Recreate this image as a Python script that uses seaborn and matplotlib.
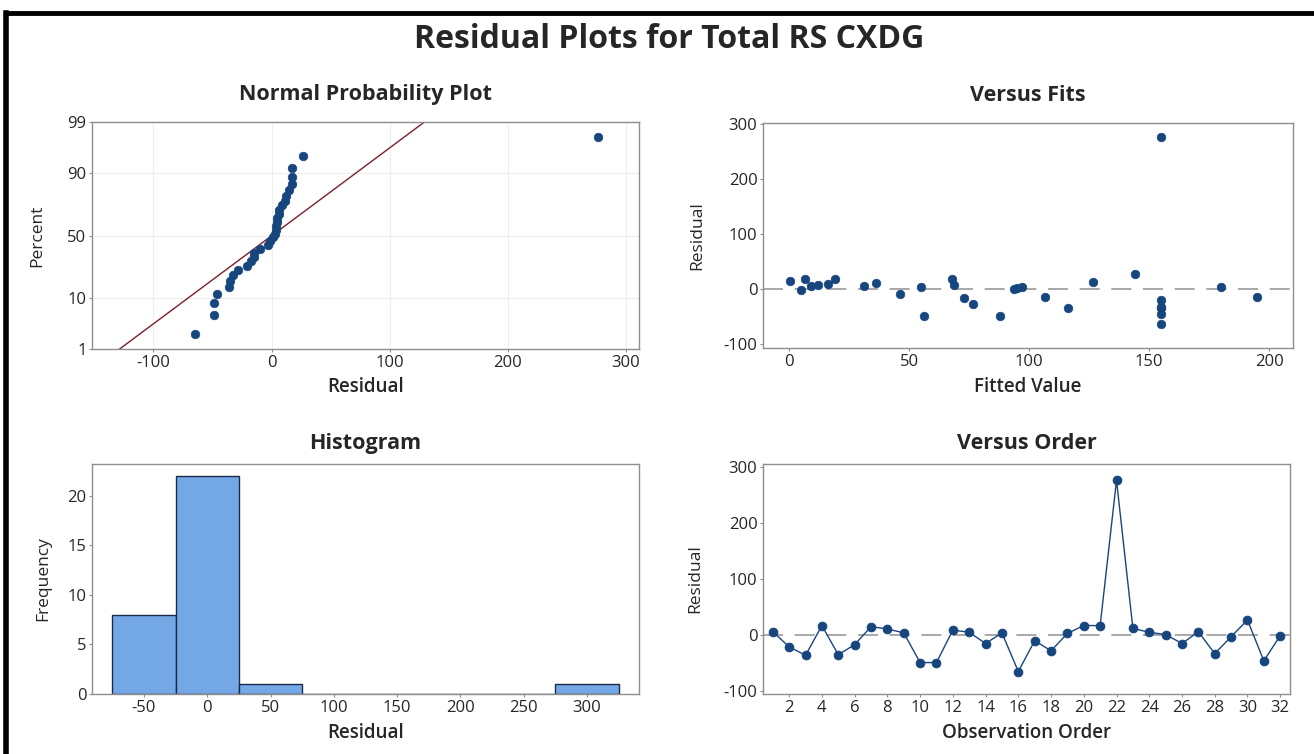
from statistics import NormalDist

import numpy as np
import pandas as pd
import matplotlib
matplotlib.use("Agg")
import matplotlib.pyplot as plt
import seaborn as sns

# residuals in observation order
observation = list(range(1, 33))
residuals = [6, -21, -36, 17, -35, -17, 15, 11, 4, -49, -49, 9, 5, -15, 4, -65,
             -10, -28, 3, 17, 17, 276, 12, 5, 1, -15, 6, -33, -3, 27, -46, -1]
fitted = [12, 155, 155, 68, 116, 73, 0.4, 36, 55, 56, 88, 16, 31, 106.5, 97, 155,
          46, 76.5, 180, 19, 6.5, 155, 126.5, 9, 95, 195, 68.5, 155, 5, 144, 155, 93.5]

prob_ticks = [1, 10, 50, 90, 99]
fit_ticks = [0, 50, 100, 150, 200]
resid_ticks = [-100, 0, 100, 200, 300]
hist_ticks = [-50, 0, 50, 100, 150, 200, 250, 300]
order_ticks = list(range(2, 33, 2))

df = pd.DataFrame({"Order": observation, "Residual": residuals, "Fit": fitted})

W, H = 1314, 754
DOT = "#17467f"
SPINE = "#8e8e8e"
TXT = "#262626"

sns.set_theme(style="white")
plt.rcParams["font.family"] = ["Open Sans", "DejaVu Sans"]
plt.rcParams["axes.unicode_minus"] = False
plt.rcParams["xtick.color"] = SPINE
plt.rcParams["ytick.color"] = SPINE
plt.rcParams["xtick.labelcolor"] = TXT
plt.rcParams["ytick.labelcolor"] = TXT

fig = plt.figure(figsize=(W / 100, H / 100), dpi=100)
fig.patch.set_facecolor("white")


def box(x0, y0, x1, y1):
    return fig.add_axes([x0 / W, 1 - y1 / H, (x1 - x0) / W, (y1 - y0) / H])


def style(ax, title, xlabel, ylabel, tpad, ylab_x):
    for sp in ax.spines.values():
        sp.set_color(SPINE)
        sp.set_linewidth(1.0)
    ax.tick_params(axis="both", which="major", length=2.5, width=0.8,
                   labelsize=12, pad=1.5, bottom=True, left=True)
    ax.set_title(title, fontsize=15.5, fontweight="bold", color=TXT, pad=tpad)
    ax.set_xlabel(xlabel, fontsize=13.5, fontweight="semibold", color=TXT, labelpad=5)
    ax.set_ylabel(ylabel, fontsize=12.5, color=TXT)
    ax.yaxis.set_label_coords(ylab_x, 0.5)


# ---- Normal probability plot ----
ax1 = box(92, 122, 639, 349)
nd = NormalDist()
srt = np.sort(df["Residual"].values)
n = len(srt)
pct = (np.arange(1, n + 1) - 0.3) / (n + 0.4)
z = np.array([nd.inv_cdf(p) for p in pct])
mu, sd = srt.mean(), srt.std(ddof=1)
zl = np.array([-3.0, 3.0])
ax1.plot(mu + zl * sd, zl, color="#7a1f2b", lw=1.0, zorder=2)
sns.scatterplot(x=srt, y=z, ax=ax1, color=DOT, s=38, marker="o",
                edgecolor=DOT, linewidth=0.5, zorder=3)
zt = [nd.inv_cdf(p / 100) for p in prob_ticks]
ax1.set_yticks(zt)
ax1.set_yticklabels([str(p) for p in prob_ticks])
ax1.set_ylim(zt[0], zt[-1])
ax1.set_xticks(resid_ticks)
ax1.set_xlim(-152, 311)
ax1.grid(True, color="#eeeeee", lw=0.8)
ax1.set_axisbelow(True)
style(ax1, "Normal Probability Plot", "Residual", "Percent", 16, -0.086)

# ---- Versus fits ----
ax2 = box(763, 123, 1293, 348)
ax2.axhline(0, color="#9a9a9a", lw=1.2, dashes=(12, 7), zorder=1)
sns.scatterplot(data=df, x="Fit", y="Residual", ax=ax2, color=DOT, s=38,
                edgecolor=DOT, linewidth=0.5, zorder=3)
ax2.set_xticks(fit_ticks)
ax2.set_xlim(-11, 210)
ax2.set_yticks(resid_ticks)
ax2.set_ylim(-108, 302)
style(ax2, "Versus Fits", "Fitted Value", "Residual", 16, -0.109)

# ---- Histogram ----
ax3 = box(92, 464, 639, 694)
sns.histplot(data=df, x="Residual", binwidth=50, binrange=(-75, 325), ax=ax3,
             color="#74a7e6", alpha=1.0, edgecolor="#1c2a48", linewidth=1.0)
ax3.set_xticks(hist_ticks)
ax3.set_xlim(-91, 341)
ax3.set_yticks([0, 5, 10, 15, 20])
ax3.set_ylim(0, 23.2)
style(ax3, "Histogram", "Residual", "Frequency", 11, -0.075)

# ---- Versus order ----
ax4 = box(763, 464, 1290, 694)
ax4.axhline(0, color="#9a9a9a", lw=1.2, dashes=(12, 7), zorder=1)
sns.lineplot(data=df, x="Order", y="Residual", ax=ax4, color=DOT, lw=1.0,
             marker="o", markersize=6.2, markeredgecolor=DOT, zorder=3)
ax4.set_xticks(order_ticks)
ax4.set_xlim(0.4, 32.6)
ax4.set_yticks(resid_ticks)
ax4.set_ylim(-105, 305)
style(ax4, "Versus Order", "Observation Order", "Residual", 11, -0.114)

fig.text(669 / W, 1 - 40 / H, "Residual Plots for Total RS CXDG", ha="center",
         va="center", fontsize=23, fontweight="bold", color=TXT)

# black frame on the top and left edges
fig.add_artist(plt.Line2D([6 / W, 6 / W], [0, 1 - 13 / H], transform=fig.transFigure,
                          color="black", lw=4, solid_capstyle="projecting"))
fig.add_artist(plt.Line2D([6 / W, 1], [1 - 13 / H, 1 - 13 / H], transform=fig.transFigure,
                          color="black", lw=3.5, solid_capstyle="projecting"))

fig.savefig("out.png", dpi=100, facecolor="white")
